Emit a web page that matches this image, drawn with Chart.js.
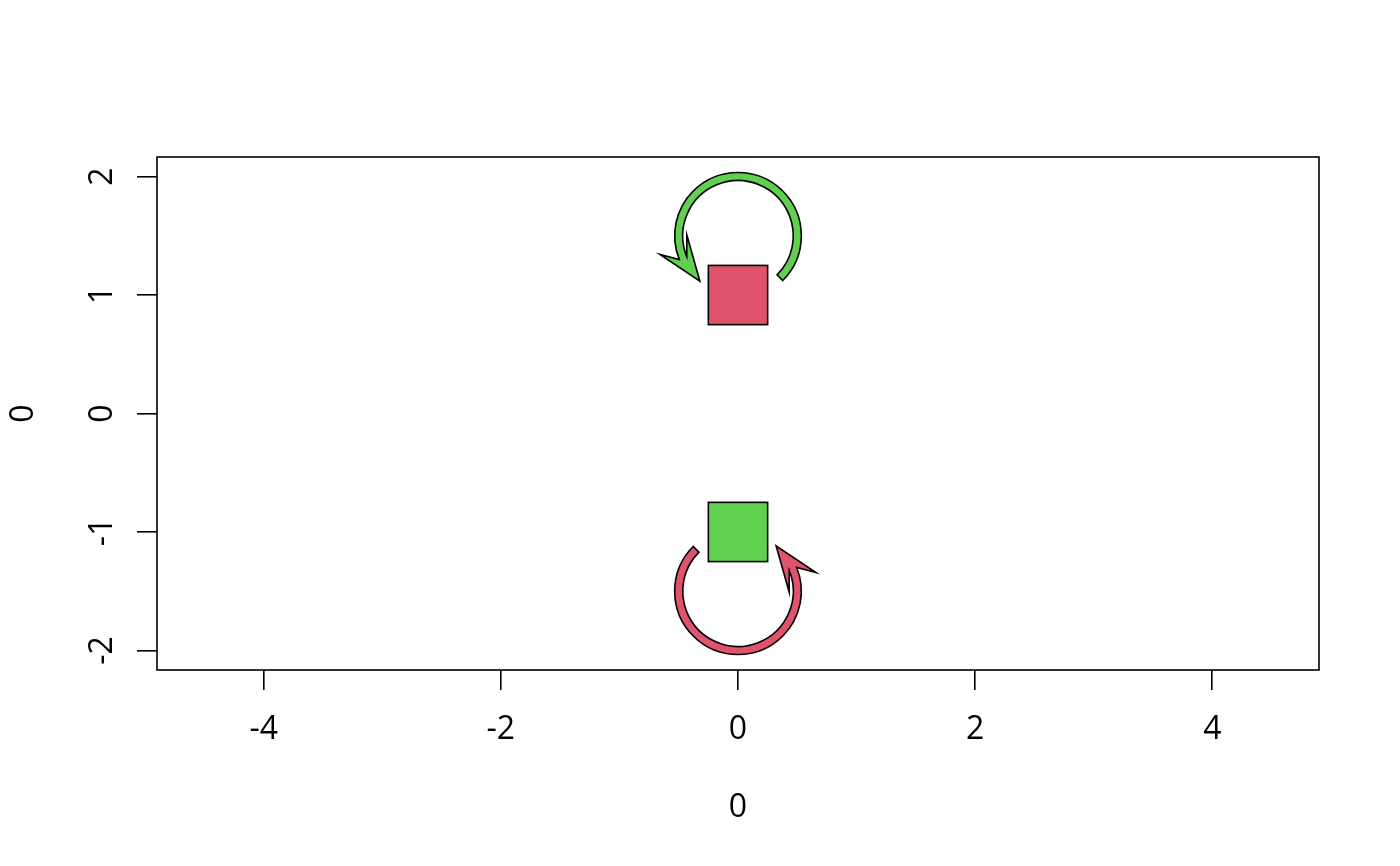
<!DOCTYPE html>
<html>
<head>
<meta charset="utf-8">
<script src="https://cdn.jsdelivr.net/npm/chart.js@4.4.0/dist/chart.umd.min.js"></script>
<style>
  html, body { margin: 0; padding: 0; background: #fff; }
  #wrap { width: 1400px; height: 866px; }
</style>
</head>
<body>
<div id="wrap"><canvas id="chart" width="1400" height="866"></canvas></div>
<script>
// axes
const xRange = [-4.9, 4.9];
const yRange = [-2.165, 2.165];
const xTicks = [-4, -2, 0, 2, 4];
const yTicks = [-2, -1, 0, 1, 2];
const xTitle = '0';
const yTitle = '0';

// nodes (boxes)
const boxX = [0, 0];
const boxY = [1, -1];
const boxHalf = [0.25, 0.25];

// self loops, angles in degrees, counter-clockwise
const loopX = [0, 0];
const loopY = [1.5, -1.5];
const loopRadius = [0.5, 0.5];
const loopFrom = [-45, 135];
const loopTo = [202, 382];
const loopTip = [230, 410];

// looks
const boxColors = ['#DF536B', '#61D04F'];
const loopColors = ['#61D04F', '#DF536B'];
const loopHalfWidth = 0.034;
const headLength = 0.38;
const headHalfWidth = 0.14;
const FONT = 'Open Sans';

Chart.defaults.font.family = FONT;
Chart.defaults.color = '#000';

const diagramPlugin = {
    id: 'diagram',
    afterDatasetsDraw(chart) {
        const { ctx, chartArea, scales: { x, y } } = chart;
        const px = v => x.getPixelForValue(v);
        const py = v => y.getPixelForValue(v);
        const unit = v => px(v) - px(0);
        const rad = d => -d * Math.PI / 180;

        ctx.save();
        ctx.strokeStyle = '#000';
        ctx.lineWidth = 1.6;
        ctx.lineJoin = 'miter';

        // loops with arrow heads
        loopX.forEach((lx, i) => {
            const cx = px(lx), cy = py(loopY[i]);
            const r = unit(loopRadius[i]);
            const hw = unit(loopHalfWidth);
            const a0 = rad(loopFrom[i]), a1 = rad(loopTo[i]), at = rad(loopTip[i]);
            const tip = [cx + r * Math.cos(at), cy + r * Math.sin(at)];
            const base = [cx + r * Math.cos(a1), cy + r * Math.sin(a1)];
            let ux = tip[0] - base[0], uy = tip[1] - base[1];
            const len = Math.hypot(ux, uy);
            ux /= len; uy /= len;
            const hl = unit(headLength), hh = unit(headHalfWidth);
            const bc = [tip[0] - ux * hl, tip[1] - uy * hl];
            let b1 = [bc[0] - uy * hh, bc[1] + ux * hh];
            let b2 = [bc[0] + uy * hh, bc[1] - ux * hh];
            if (Math.hypot(b1[0] - cx, b1[1] - cy) < Math.hypot(b2[0] - cx, b2[1] - cy)) {
                [b1, b2] = [b2, b1];
            }
            ctx.beginPath();
            ctx.arc(cx, cy, r + hw, a0, a1, true);
            ctx.lineTo(b1[0], b1[1]);
            ctx.lineTo(tip[0], tip[1]);
            ctx.lineTo(b2[0], b2[1]);
            ctx.arc(cx, cy, r - hw, a1, a0, false);
            ctx.closePath();
            ctx.fillStyle = loopColors[i];
            ctx.fill();
            ctx.stroke();
        });

        // boxes
        boxX.forEach((bx, i) => {
            const x0 = px(bx - boxHalf[i]), x1 = px(bx + boxHalf[i]);
            const y0 = py(boxY[i] + boxHalf[i]), y1 = py(boxY[i] - boxHalf[i]);
            ctx.fillStyle = boxColors[i];
            ctx.fillRect(x0, y0, x1 - x0, y1 - y0);
            ctx.strokeRect(x0, y0, x1 - x0, y1 - y0);
        });

        // plot frame
        ctx.strokeRect(chartArea.left, chartArea.top,
            chartArea.right - chartArea.left, chartArea.bottom - chartArea.top);
        ctx.restore();
    }
};

const tickGrid = {
    display: true,
    drawOnChartArea: false,
    drawTicks: true,
    tickLength: 20,
    color: '#000',
    lineWidth: 1.6
};

new Chart(document.getElementById('chart'), {
    type: 'scatter',
    data: {
        datasets: [{
            data: boxX.map((v, i) => ({ x: v, y: boxY[i] })),
            pointRadius: 0
        }]
    },
    options: {
        responsive: false,
        devicePixelRatio: 1,
        animation: false,
        layout: { padding: { left: 0, right: 81, top: 157, bottom: 0 } },
        plugins: {
            legend: { display: false },
            tooltip: { enabled: false }
        },
        scales: {
            x: {
                type: 'linear',
                min: xRange[0],
                max: xRange[1],
                afterBuildTicks: s => { s.ticks = xTicks.map(v => ({ value: v })); },
                afterFit: s => { s.height = 196; },
                grid: tickGrid,
                border: { display: false },
                ticks: { color: '#000', font: { size: 32 }, padding: 21, maxRotation: 0, autoSkip: false },
                title: {
                    display: true, text: xTitle, color: '#000',
                    font: { size: 32, lineHeight: 1.2 },
                    padding: { top: 0, bottom: 39 }
                }
            },
            y: {
                type: 'linear',
                min: yRange[0],
                max: yRange[1],
                afterBuildTicks: s => { s.ticks = yTicks.map(v => ({ value: v })); },
                afterFit: s => { s.width = 157; },
                grid: tickGrid,
                border: { display: false },
                ticks: {
                    color: '#000', font: { size: 32 }, padding: 20,
                    minRotation: 90, maxRotation: 90, crossAlign: 'center', autoSkip: false
                },
                title: {
                    display: true, text: yTitle, color: '#000',
                    font: { size: 32, lineHeight: 1.2 },
                    padding: { top: 5, bottom: 0 }
                }
            }
        }
    },
    plugins: [diagramPlugin]
});
</script>
</body>
</html>
